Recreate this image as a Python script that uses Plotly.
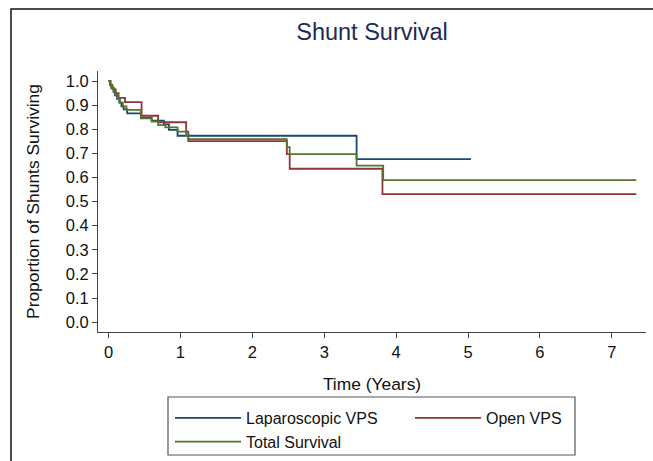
import plotly.graph_objects as go

# Kaplan-Meier step data (time in years, survival proportion); last point = last follow-up
lap_time = [0, 0.02, 0.04, 0.07, 0.09, 0.12, 0.15, 0.18, 0.21, 0.26, 0.45, 0.60, 0.77, 0.84, 0.96, 3.45, 5.04]
lap_surv = [1.0, 0.985, 0.97, 0.955, 0.94, 0.925, 0.91, 0.895, 0.882, 0.866, 0.848, 0.836, 0.82, 0.797, 0.773, 0.676, 0.676]

open_time = [0, 0.03, 0.06, 0.10, 0.14, 0.23, 0.46, 0.69, 1.08, 1.11, 2.48, 2.52, 3.81, 7.34]
open_surv = [1.0, 0.98, 0.965, 0.95, 0.93, 0.912, 0.856, 0.829, 0.79, 0.751, 0.697, 0.636, 0.531, 0.531]

tot_time = [0, 0.02, 0.05, 0.08, 0.10, 0.13, 0.16, 0.20, 0.25, 0.45, 0.60, 0.69, 0.79, 0.96, 1.08, 1.11, 2.48, 2.52, 3.45, 3.82, 7.34]
tot_surv = [1.0, 0.985, 0.97, 0.955, 0.94, 0.925, 0.91, 0.895, 0.88, 0.845, 0.832, 0.817, 0.808, 0.79, 0.776, 0.759, 0.726, 0.697, 0.649, 0.589, 0.589]

series_names = ["Laparoscopic VPS", "Open VPS", "Total Survival"]
series_colors = ["#1a476f", "#90353b", "#55752f"]

x_ticks = [0, 1, 2, 3, 4, 5, 6, 7]
y_ticks = [round(i * 0.1, 1) for i in range(11)]

W, H = 653, 461
L, R, T, B = 98, 7, 71, 129
pw, ph = W - L - R, H - T - B

def px_x(p):
    return (p - L) / pw

def px_y(p):
    return (H - B - p) / ph

FONT = "Liberation Sans, Arial, sans-serif"
TXT = "#111111"

fig = go.Figure()
for t, s, name, col in zip([lap_time, open_time, tot_time], [lap_surv, open_surv, tot_surv],
                           series_names, series_colors):
    fig.add_trace(go.Scatter(x=t, y=s, mode="lines", name=name,
                             line=dict(color=col, width=1.8, shape="hv"),
                             hoverinfo="skip"))

fig.update_layout(
    width=W, height=H,
    margin=dict(l=L, r=R, t=T, b=B, autoexpand=False),
    paper_bgcolor="white", plot_bgcolor="white",
    font=dict(family=FONT, size=16, color=TXT),
    title=dict(text="Shunt Survival", xref="container", x=372 / W, xanchor="center",
               yref="container", y=1 - 32 / H, yanchor="middle",
               font=dict(family=FONT, size=23.5, color="#1c2a55")),
    xaxis=dict(range=[-0.146, 7.475], tickvals=x_ticks, ticks="outside", ticklen=5,
               tickcolor="#444444", showline=True, linecolor="#444444", linewidth=1,
               showgrid=False, zeroline=False, automargin=False,
               tickfont=dict(family=FONT, size=16.5, color=TXT),
               title=dict(text="Time (Years)", standoff=18,
                          font=dict(family=FONT, size=17.4, color=TXT))),
    yaxis=dict(range=[-0.041, 1.0415], tickvals=y_ticks, tickformat=".1f", ticks="outside",
               ticklen=5, tickcolor="#444444", showline=True, linecolor="#444444", linewidth=1,
               showgrid=False, zeroline=False, automargin=False,
               tickfont=dict(family=FONT, size=16.5, color=TXT),
               title=dict(text="Proportion of Shunts Surviving", standoff=21,
                          font=dict(family=FONT, size=17.4, color=TXT))),
    legend=dict(orientation="h", xref="container", yref="container",
                x=170 / W, xanchor="left", y=1 - 401 / H, yanchor="top",
                entrywidth=159, itemwidth=66, bgcolor="rgba(0,0,0,0)", borderwidth=0,
                font=dict(family=FONT, size=16, color=TXT), tracegroupgap=0),
    showlegend=True,
    shapes=[
        dict(type="rect", xref="paper", yref="paper",
             x0=px_x(168), x1=px_x(575), y0=px_y(455), y1=px_y(397),
             line=dict(color="#555555", width=1.2), fillcolor="rgba(0,0,0,0)", layer="below"),
        dict(type="rect", xref="paper", yref="paper",
             x0=px_x(11), x1=px_x(660), y0=px_y(480), y1=px_y(9),
             line=dict(color="#111111", width=1.5), fillcolor="rgba(0,0,0,0)", layer="below"),
    ],
)

fig.write_html("out.html")
